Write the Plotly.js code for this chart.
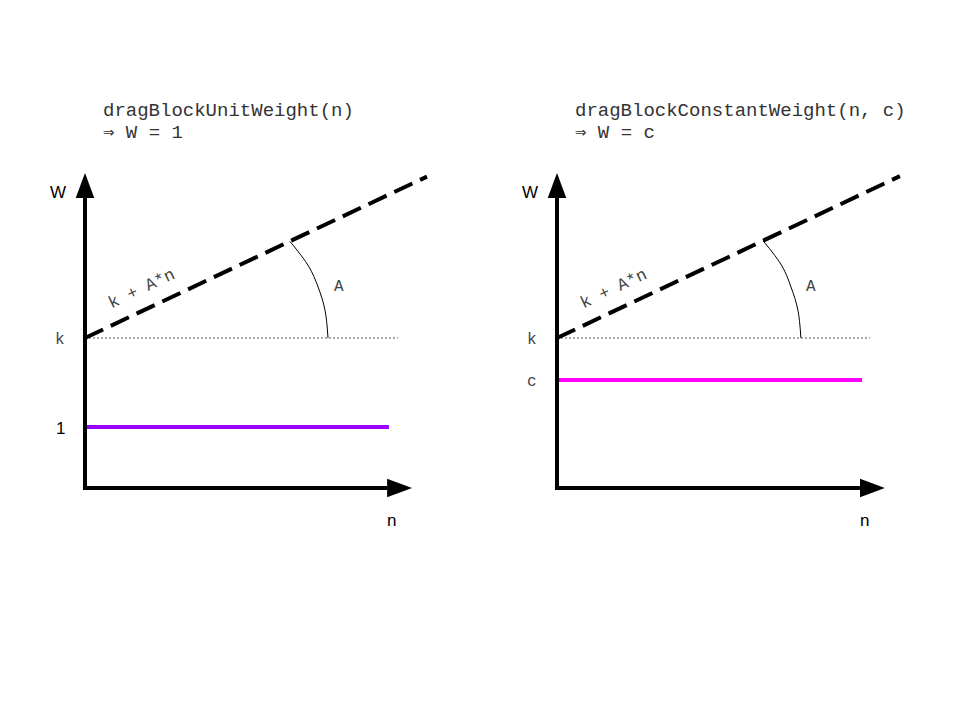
<!DOCTYPE html>
<html>
<head>
<meta charset="utf-8">
<script src="https://cdn.plot.ly/plotly-3.0.1.min.js"></script>
<style>html,body{margin:0;padding:0;background:#fff;}#chart{width:960px;height:720px;}</style>
</head>
<body>
<div id="chart"></div>
<script>
// ---- diagram values (abstract units: n horizontal, W vertical) ----
const panelTitles = ["dragBlockUnitWeight(n)", "dragBlockConstantWeight(n, c)"];
const panelResults = ["\u21D2 W = 1", "\u21D2 W = c"];
const constLabels = ["1", "c"];
const constValues = [2.03, 3.6];
const constColors = ["#9900ff", "#ff00ff"];
const kValue = 5.0;
const slopeA = 0.472;
const dashEndN = [11.4, 11.43];
const constEndN = [10.13, 10.17];
const kLineEndN = [10.43, 10.43];
const yAxisTip = 10.5;
const xAxisTip = [10.9, 10.93];
const arcN = [[6.83, 7.45, 7.77, 8.0, 8.1], [6.87, 7.5, 7.8, 8.03, 8.13]];
const arcW = [[8.22, 7.4, 6.7, 5.93, 5.0], [8.24, 7.4, 6.7, 5.93, 5.0]];
const lineLabel = "k + A*n";

const headLen = 0.83, headHalf = 0.31;
const mono = "Liberation Mono, Courier New, monospace";
const sans = "Liberation Sans, Arial, sans-serif";

const traces = [];
const annotations = [];
for (let p = 0; p < 2; p++) {
  const xa = p === 0 ? "x" : "x2";
  const ya = p === 0 ? "y" : "y2";
  // dotted k line
  traces.push({x: [0, kLineEndN[p]], y: [kValue, kValue], xaxis: xa, yaxis: ya, mode: "lines",
    line: {color: "#555", width: 1, dash: "2px,2px"}, hoverinfo: "skip"});
  // dashed k + A*n
  traces.push({x: [0, dashEndN[p]], y: [kValue, kValue + slopeA * dashEndN[p]], xaxis: xa, yaxis: ya, mode: "lines",
    line: {color: "#000", width: 4, dash: "20px,8.5px"}, hoverinfo: "skip"});
  // constant weight line
  traces.push({x: [0, constEndN[p]], y: [constValues[p], constValues[p]], xaxis: xa, yaxis: ya, mode: "lines",
    line: {color: constColors[p], width: 4}, hoverinfo: "skip"});
  // angle arc
  traces.push({x: arcN[p], y: arcW[p], xaxis: xa, yaxis: ya, mode: "lines",
    line: {color: "#000", width: 1, shape: "spline"}, hoverinfo: "skip"});
  // axes
  traces.push({x: [0, 0, xAxisTip[p] - headLen], y: [yAxisTip - headLen, 0, 0], xaxis: xa, yaxis: ya, mode: "lines",
    line: {color: "#000", width: 4}, hoverinfo: "skip"});
  // arrow heads
  traces.push({x: [-headHalf, headHalf, 0, -headHalf], y: [yAxisTip - headLen, yAxisTip - headLen, yAxisTip, yAxisTip - headLen],
    xaxis: xa, yaxis: ya, mode: "lines", fill: "toself", fillcolor: "#000", line: {color: "#000", width: 0}, hoverinfo: "skip"});
  traces.push({x: [xAxisTip[p] - headLen, xAxisTip[p] - headLen, xAxisTip[p], xAxisTip[p] - headLen], y: [-headHalf, headHalf, 0, -headHalf],
    xaxis: xa, yaxis: ya, mode: "lines", fill: "toself", fillcolor: "#000", line: {color: "#000", width: 0}, hoverinfo: "skip"});

  const tfont = {family: mono, size: 19, color: "#333"};
  annotations.push({xref: xa, yref: ya, x: 0.53, y: 12.57, xanchor: "left", yanchor: "middle", text: panelTitles[p], showarrow: false, font: tfont});
  annotations.push({xref: xa, yref: ya, x: 0.53, y: 11.83, xanchor: "left", yanchor: "middle", text: panelResults[p], showarrow: false, font: tfont});
  annotations.push({xref: xa, yref: ya, x: -0.9, y: 9.85, xanchor: "center", yanchor: "middle", text: "W", showarrow: false, font: {family: sans, size: 17, color: "#000"}});
  annotations.push({xref: xa, yref: ya, x: xAxisTip[p] - 0.68, y: -1.07, xanchor: "center", yanchor: "middle", text: "n", showarrow: false, font: {family: sans, size: 17, color: "#000"}});
  annotations.push({xref: xa, yref: ya, x: -0.83, y: kValue - 0.08, xanchor: "center", yanchor: "middle", text: "k", showarrow: false, font: {family: mono, size: 16, color: "#444"}});
  annotations.push({xref: xa, yref: ya, x: -0.83, y: constValues[p] - 0.05, xanchor: "center", yanchor: "middle", text: constLabels[p],
    showarrow: false, font: {family: p === 0 ? sans : mono, size: p === 0 ? 17 : 16, color: p === 0 ? "#000" : "#444"}});
  annotations.push({xref: xa, yref: ya, x: 8.45, y: 6.7, xanchor: "center", yanchor: "middle", text: "A", showarrow: false, font: {family: mono, size: 16, color: "#444"}});
  annotations.push({xref: xa, yref: ya, x: 1.87, y: 6.63, xanchor: "center", yanchor: "middle", text: lineLabel, textangle: -25.3,
    showarrow: false, font: {family: mono, size: 17, color: "#444"}});
}

const hidden = {showgrid: false, zeroline: false, showticklabels: false, showline: false, ticks: "", fixedrange: true};
const layout = {
  width: 960, height: 720,
  margin: {l: 0, r: 0, t: 0, b: 0},
  paper_bgcolor: "#fff", plot_bgcolor: "#fff",
  showlegend: false,
  xaxis: Object.assign({domain: [0, 0.5], range: [-85 / 30, 395 / 30]}, hidden),
  xaxis2: Object.assign({domain: [0.5, 1], range: [-77 / 30, 403 / 30]}, hidden),
  yaxis: Object.assign({domain: [0, 1], range: [-232 / 30, 488 / 30]}, hidden),
  yaxis2: Object.assign({domain: [0, 1], range: [-232 / 30, 488 / 30], anchor: "x2"}, hidden),
  annotations: annotations
};
layout.xaxis2.anchor = "y2";
Plotly.newPlot("chart", traces, layout, {displayModeBar: false, staticPlot: true});
</script>
</body>
</html>
